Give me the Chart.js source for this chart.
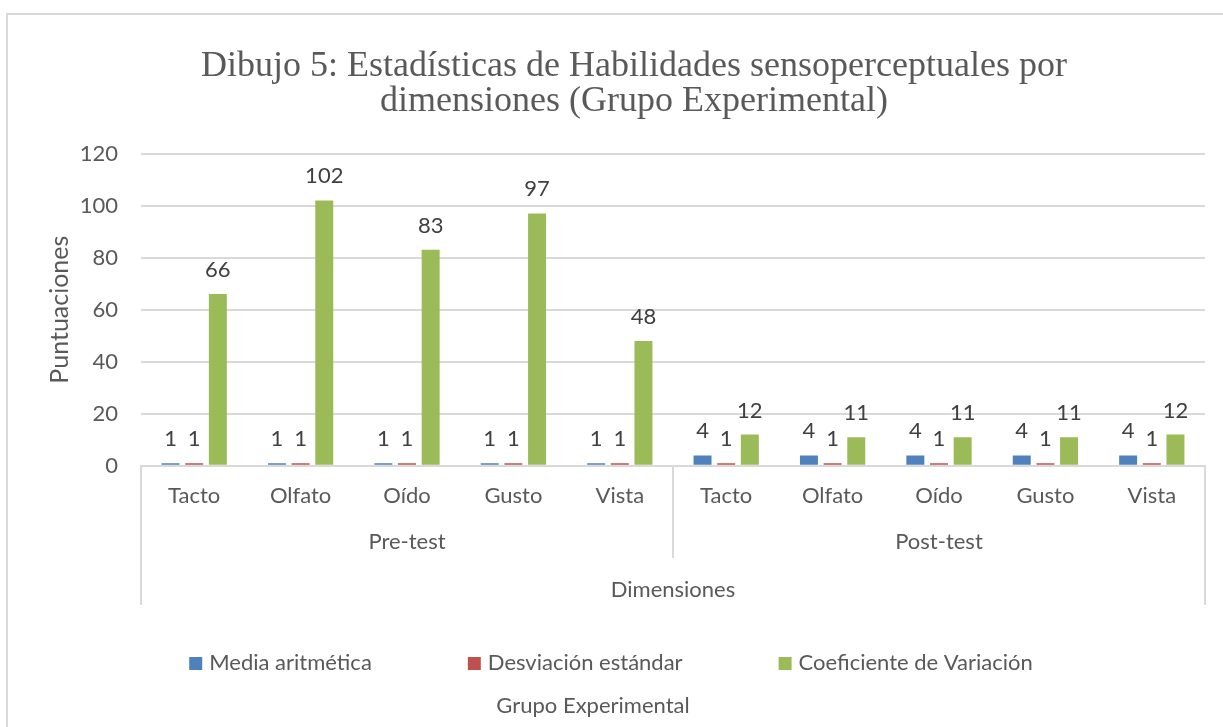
<!DOCTYPE html>
<html>
<head>
<meta charset="utf-8">
<script src="https://cdn.jsdelivr.net/npm/chart.js@4.4.0/dist/chart.umd.min.js"></script>
<style>
  html, body { margin: 0; padding: 0; overflow: hidden; background: #fff; }
  #myChart { position: absolute; left: 0; top: 0; }
  #frame { position: absolute; left: 6px; top: 13px; width: 1300px; height: 800px;
           border: 2px solid #d9d9d9; box-sizing: border-box; pointer-events: none; }
</style>
</head>
<body>
<canvas id="myChart" width="1263" height="727"></canvas>
<div id="frame"></div>
<script>
const categories = ["Tacto", "Olfato", "Oído", "Gusto", "Vista", "Tacto", "Olfato", "Oído", "Gusto", "Vista"];
const groups = ["Pre-test", "Post-test"];
const mediaAritmetica = [1, 1, 1, 1, 1, 4, 4, 4, 4, 4];
const desviacionEstandar = [1, 1, 1, 1, 1, 1, 1, 1, 1, 1];
const coeficienteVariacion = [66, 102, 83, 97, 48, 12, 11, 11, 11, 12];
const yTicks = [0, 20, 40, 60, 80, 100, 120];

Chart.defaults.font.family = "Lato";
Chart.defaults.color = "#595959";

// numbers above each bar
const barLabels = {
  id: "barLabels",
  afterDatasetsDraw(chart) {
    const ctx = chart.ctx;
    ctx.save();
    ctx.font = "22px Lato";
    ctx.fillStyle = "#404040";
    ctx.textAlign = "center";
    ctx.textBaseline = "middle";
    chart.data.datasets.forEach((ds, i) => {
      chart.getDatasetMeta(i).data.forEach((bar, j) => {
        ctx.fillText(Math.round(ds.data[j]), bar.x, bar.y - 24);
      });
    });
    ctx.restore();
  },
};

// separator lines of the two-level category axis
const axisLines = {
  id: "axisLines",
  afterDraw(chart) {
    const x = chart.scales.x;
    const x2 = chart.scales.x2;
    const ctx = chart.ctx;
    const mid = (x.getPixelForValue(4) + x.getPixelForValue(5)) / 2;
    ctx.save();
    ctx.strokeStyle = "#d9d9d9";
    ctx.lineWidth = 2;
    ctx.beginPath();
    ctx.moveTo(x.left, x.top); ctx.lineTo(x.left, x2.bottom);
    ctx.moveTo(mid, x.top); ctx.lineTo(mid, x2.bottom - 47);
    ctx.moveTo(x.right, x.top); ctx.lineTo(x.right, x2.bottom);
    ctx.stroke();
    ctx.restore();
  },
};

// excel style legend with its caption underneath
const legendBox = {
  id: "legendBox",
  afterDraw(chart) {
    const ctx = chart.ctx;
    const sets = chart.data.datasets;
    const y = chart.scales.x2.bottom + 58;
    ctx.save();
    ctx.font = "22px Lato";
    ctx.textBaseline = "middle";
    const gap = 96;
    const widths = sets.map((d) => 20 + ctx.measureText(d.label).width);
    const total = widths.reduce((a, b) => a + b, 0) + gap * (sets.length - 1);
    let left = 611 - total / 2;
    sets.forEach((d, i) => {
      ctx.fillStyle = d.backgroundColor;
      ctx.fillRect(left, y - 6, 13, 13);
      ctx.fillStyle = "#595959";
      ctx.textAlign = "left";
      ctx.fillText(d.label, left + 20, y);
      left += widths[i] + gap;
    });
    ctx.textAlign = "center";
    ctx.fillText("Grupo Experimental", 593, y + 43);
    ctx.restore();
  },
};

const ctx = document.getElementById("myChart").getContext("2d");
const myChart = new Chart(ctx, {
  type: "bar",
  data: {
    labels: categories,
    datasets: [
      { label: "Media aritmética", data: mediaAritmetica, backgroundColor: "#4f81bd" },
      { label: "Desviación estándar", data: desviacionEstandar, backgroundColor: "#c0504d" },
      { label: "Coeficiente de Variación", data: coeficienteVariacion, backgroundColor: "#9bbb59" },
    ],
  },
  options: {
    responsive: false,
    animation: false,
    categoryPercentage: 0.667,
    barPercentage: 0.76,
    layout: { padding: { left: 5, top: 0, right: 0, bottom: 122 } },
    plugins: {
      legend: { display: false },
      tooltip: { enabled: false },
      title: {
        display: true,
        text: ["Dibujo 5: Estadísticas de Habilidades sensoperceptuales por", "dimensiones (Grupo Experimental)"],
        font: { family: "Liberation Serif", size: 36, weight: "normal", lineHeight: 0.98 },
        color: "#595959",
        padding: { top: 49, bottom: 34 },
      },
    },
    scales: {
      x: {
        grid: { display: false, drawTicks: false },
        border: { display: true, color: "#d9d9d9", width: 2 },
        ticks: { font: { size: 22 }, padding: 17, maxRotation: 0 },
      },
      x2: {
        type: "category",
        labels: groups,
        position: "bottom",
        offset: true,
        grid: { display: false, drawTicks: false },
        border: { display: false },
        ticks: { font: { size: 22 }, padding: 3, maxRotation: 0 },
        title: { display: true, text: "Dimensiones", font: { size: 22 }, padding: { top: 18, bottom: 2 } },
      },
      y: {
        min: yTicks[0],
        max: yTicks[yTicks.length - 1],
        ticks: { stepSize: yTicks[1] - yTicks[0], font: { size: 22 }, padding: 23 },
        grid: { color: "#d9d9d9", lineWidth: 2, drawTicks: false },
        border: { display: false },
        title: { display: true, text: "Puntuaciones", font: { size: 25 }, padding: { top: 40, bottom: 0 } },
        afterFit: (scale) => { scale.width = 136; },
      },
      y2: {
        position: "right",
        display: true,
        grid: { display: false },
        border: { display: false },
        ticks: { display: false },
        afterFit: (scale) => { scale.width = 58; },
      },
    },
  },
  plugins: [barLabels, axisLines, legendBox],
});
</script>
</body>
</html>
